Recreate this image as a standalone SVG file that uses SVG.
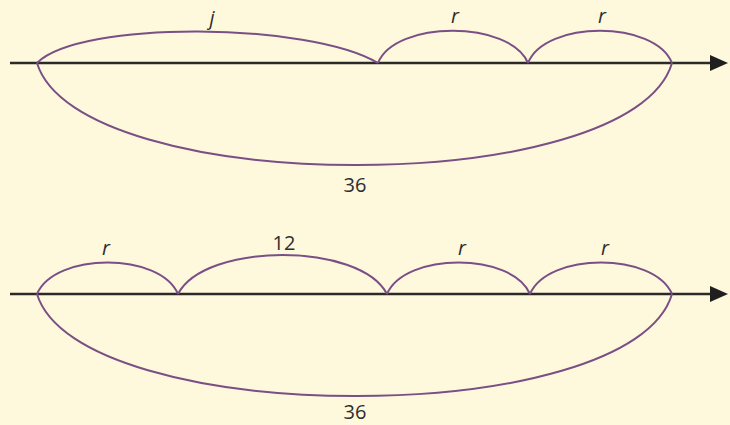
<svg xmlns="http://www.w3.org/2000/svg" width="730" height="425" viewBox="0 0 730 425">
<defs>
<style>
.axis{stroke:#2a2a2a;stroke-width:2.5;fill:none}
.head{fill:#1f1f1f}
.arc{stroke:#7a4f85;stroke-width:2;fill:none}
.lbl{font-family:"Open Sans","Liberation Sans",sans-serif;font-size:20px;fill:#2e2e2e;text-anchor:middle}
.it{font-style:italic}
</style>
</defs>
<rect width="730" height="425" fill="#fef8dc"/>
<g id="connectors">
<path class="axis" d="M10,63 L712,63"/>
<path class="head" d="M710,55 L728,63 L710,71 z"/>
<path class="axis" d="M10,294 L712,294"/>
<path class="head" d="M710,286 L728,294 L710,302 z"/>
</g>
<g id="top-j"><path class="arc" d="M37,63 C80,20 310,22 378,63"/><text class="lbl it" x="212" y="25">j</text></g>
<g id="top-r1"><path class="arc" d="M378,63 C395,20 510,20 528,63"/><text class="lbl it" x="455" y="23">r</text></g>
<g id="top-r2"><path class="arc" d="M528,63 C545,20 655,20 672,63"/><text class="lbl it" x="602" y="23">r</text></g>
<g id="top-36"><path class="arc" d="M37,63 C78,198 632,200 672,63"/><text class="lbl" x="355" y="192">36</text></g>
<g id="bot-r1"><path class="arc" d="M37,294 C55,252 160,252 178,294"/><text class="lbl it" x="106" y="255">r</text></g>
<g id="bot-12"><path class="arc" d="M178,294 C205,242 360,242 387,294"/><text class="lbl" x="284" y="250">12</text></g>
<g id="bot-r2"><path class="arc" d="M387,294 C405,252 512,252 530,294"/><text class="lbl it" x="462" y="255">r</text></g>
<g id="bot-r3"><path class="arc" d="M530,294 C548,252 654,252 672,294"/><text class="lbl it" x="605" y="255">r</text></g>
<g id="bot-36"><path class="arc" d="M37,294 C78,429 632,431 672,294"/><text class="lbl" x="355" y="419">36</text></g>
</svg>
